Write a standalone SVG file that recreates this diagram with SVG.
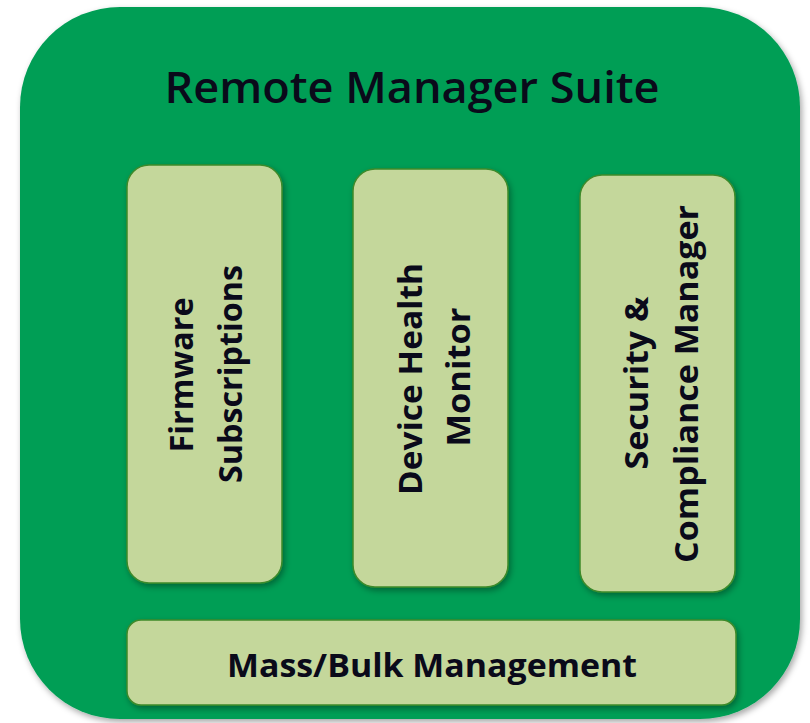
<svg xmlns="http://www.w3.org/2000/svg" width="810" height="723" viewBox="0 0 810 723">
<defs>
<filter id="sh" x="-10%" y="-10%" width="120%" height="120%">
<feDropShadow dx="2" dy="3" stdDeviation="3" flood-color="#000" flood-opacity="0.35"/>
</filter>
</defs>
<style>
.outer{fill:#009e55;}
.box{fill:#c4d79b;stroke:#3e8a2a;stroke-width:1.5;}
.t{font-family:"Open Sans","Liberation Sans",sans-serif;fill:#0a0a1a;text-anchor:middle;}
.title{font-size:43px;font-weight:600;}
.lbl{font-size:33px;font-weight:bold;}
</style>
<rect width="810" height="723" fill="#ffffff"/>
<g id="suite">
<rect class="outer" x="20" y="7" width="780" height="712" rx="100" filter="url(#sh)"/>
<text class="t title" x="412" y="103" textLength="495" lengthAdjust="spacingAndGlyphs">Remote Manager Suite</text>
</g>
<g id="firmware">
<rect class="box" x="127" y="165" width="155" height="418" rx="22" filter="url(#sh)"/>
<text class="t lbl" transform="translate(193,375) rotate(-90)" textLength="155" lengthAdjust="spacingAndGlyphs">Firmware</text>
<text class="t lbl" transform="translate(242,374) rotate(-90)" textLength="218" lengthAdjust="spacingAndGlyphs">Subscriptions</text>
</g>
<g id="health">
<rect class="box" x="353" y="169" width="155" height="418" rx="22" filter="url(#sh)"/>
<text class="t lbl" transform="translate(422,379) rotate(-90)" textLength="232" lengthAdjust="spacingAndGlyphs">Device Health</text>
<text class="t lbl" transform="translate(470,377) rotate(-90)" textLength="139" lengthAdjust="spacingAndGlyphs">Monitor</text>
</g>
<g id="security">
<rect class="box" x="580" y="175" width="155" height="417" rx="22" filter="url(#sh)"/>
<text class="t lbl" transform="translate(648,383) rotate(-90)" textLength="173" lengthAdjust="spacingAndGlyphs">Security &amp;</text>
<text class="t lbl" transform="translate(698,384) rotate(-90)" textLength="358" lengthAdjust="spacingAndGlyphs">Compliance Manager</text>
</g>
<g id="bulk">
<rect class="box" x="127" y="620" width="609" height="85" rx="14" filter="url(#sh)"/>
<text class="t lbl" x="432" y="677" textLength="410" lengthAdjust="spacingAndGlyphs">Mass/Bulk Management</text>
</g>
<g id="connectors"></g>
</svg>
